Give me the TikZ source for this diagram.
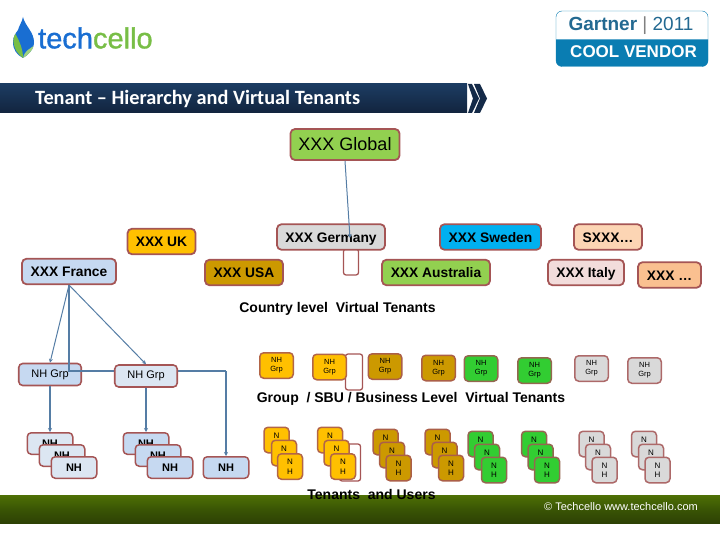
\documentclass[tikz,border=0pt]{standalone}
\usepackage{fontspec}
\setmainfont{Liberation Sans}
\newfontfamily\titlefont{Carlito}
\newfontfamily\logofont[FakeBold=1.2]{Liberation Sans}
\usetikzlibrary{positioning,arrows.meta}
\definecolor{edgered}{RGB}{165,85,85}
\definecolor{linkblue}{RGB}{85,125,165}
\definecolor{navytop}{RGB}{28,60,98}
\definecolor{navybot}{RGB}{18,36,62}
\definecolor{navy}{RGB}{20,42,72}
\definecolor{cgreen}{RGB}{146,208,80}
\definecolor{cgold}{RGB}{255,192,0}
\definecolor{cdark}{RGB}{204,153,0}
\definecolor{cblue}{RGB}{198,217,241}
\definecolor{cpale}{RGB}{220,230,242}
\definecolor{cgrey}{RGB}{217,217,217}
\definecolor{csky}{RGB}{0,176,240}
\definecolor{cpeach}{RGB}{252,213,180}
\definecolor{crose}{RGB}{242,220,219}
\definecolor{corange}{RGB}{250,192,144}
\definecolor{cleaf}{RGB}{50,205,50}
\definecolor{badgeblue}{RGB}{10,125,178}
\definecolor{badgetext}{RGB}{35,105,145}
\definecolor{logoblue}{RGB}{25,110,210}
\definecolor{logogreen}{RGB}{120,190,70}
\definecolor{foottop}{RGB}{78,112,5}
\definecolor{footmid}{RGB}{58,85,5}
\definecolor{footbot}{RGB}{45,65,5}
\tikzset{
  tenant/.style={draw=edgered, line width=1.8pt, rounded corners=4.5pt, inner sep=0pt, minimum height=25.5pt, text height=10pt, text depth=0pt, font=\bfseries\fontsize{13.8}{15}\selectfont},
  grpbox/.style={draw=edgered!85!#1, fill=#1, line width=1.5pt, rounded corners=4pt, inner sep=0pt, minimum width=33.5pt, minimum height=25.5pt, align=center, font=\fontsize{7.5}{9}\selectfont},
  nhgrp/.style={draw=edgered, fill=#1, line width=1.6pt, rounded corners=4pt, inner sep=0pt, minimum width=62.5pt, minimum height=22pt, font=\fontsize{11}{13}\selectfont},
  nhbox/.style={draw=edgered, fill=#1, line width=1.5pt, rounded corners=4pt, inner sep=0pt, minimum width=45.5pt, minimum height=21.5pt, font=\bfseries\fontsize{11}{13}\selectfont},
  leaf/.style={draw=edgered!85!#1, fill=#1, line width=1.5pt, rounded corners=4pt, inner sep=0pt, minimum width=25pt, minimum height=25.5pt, align=center, font=\fontsize{8}{9.5}\selectfont},
  blankbox/.style={draw=edgered, fill=white, line width=1.3pt, rounded corners=2.5pt, inner sep=0pt},
  caption/.style={font=\bfseries\fontsize{14}{16}\selectfont},
  link/.style={draw=linkblue, line width=1.5pt},
  thinlink/.style={draw=linkblue, line width=1pt},
  tip/.style={-{Stealth[length=4pt,width=4pt]}},
}
\begin{document}
\begin{tikzpicture}[x=1pt,y=-1pt]
\useasboundingbox (0,0) rectangle (720,540);

% logo
\fill[logoblue] (23,17) .. controls (25,26) and (34,32) .. (34,42) .. controls (34,50) and (28,55) .. (23,58) .. controls (17,55) and (13,50) .. (13,42) .. controls (13,36) and (16,33) .. (18,30) .. controls (19,26) and (22,22) .. (23,17);
\fill[logogreen] (15.5,34) .. controls (12,38) and (12,50) .. (23,58) .. controls (23,50) and (20,42) .. (15.5,34);
\fill[logogreen!70!white] (23,58) .. controls (28,55) and (33,50) .. (33.5,46) .. controls (30,49) and (25,50) .. (23,58);
\node[inner sep=0pt, anchor=west] (logo) at (38,38) {\logofont\fontsize{29}{31}\selectfont\textcolor{logoblue}{tech}\textcolor{logogreen}{cello}};

% badge
\fill[badgeblue] (556,39.5) -- (708,39.5) -- (708,60.5) arc[start angle=0,end angle=90,radius=6] -- (562,66.5) arc[start angle=90,end angle=180,radius=6] -- cycle;
\draw[badgeblue, rounded corners=6pt] (556,11) rectangle (708,66.5);
\node[inner sep=0pt, text=badgetext] (gartner) at (631,26) {\fontsize{19}{21}\selectfont\textbf{Gartner} {\color{gray}|} 2011};
\node[inner sep=0pt, text=white] (cool) at (633.5,52) {\bfseries\fontsize{17}{18}\selectfont COOL VENDOR};

% title bar
\shade[top color=navytop, bottom color=navybot] (0,84) rectangle (467,113);
\fill[navy] (468,84) -- (472,84) -- (479,98.5) -- (472,113) -- (468,113) -- (473,98.5) -- cycle;
\fill[navy] (474,84) -- (480,84) -- (487,98.5) -- (480,113) -- (474,113) -- (480,98.5) -- cycle;
\node[anchor=west, inner sep=0pt, text=white] (title) at (35,98.5) {\titlefont\bfseries\fontsize{20.3}{22}\selectfont Tenant – Hierarchy and Virtual Tenants};

% country level
\node[tenant, fill=cgreen, minimum width=109pt, minimum height=31pt, text height=13pt, font=\fontsize{18}{20}\selectfont] (global) at (345,144.5) {XXX Global};
\node[blankbox, minimum width=15pt, minimum height=26pt] (blank) at (351,262) {};
\node[tenant, fill=cgold, minimum width=68pt] (uk) at (161.5,241.5) {XXX UK};
\node[tenant, fill=cblue, minimum width=94pt] (france) at (69,271.5) {XXX France};
\node[tenant, fill=cdark, minimum width=78pt] (usa) at (244,272.5) {XXX USA};
\node[tenant, fill=cgrey, minimum width=108pt] (germany) at (331,237) {XXX Germany};
\node[tenant, fill=csky, minimum width=101pt] (sweden) at (490.5,237) {XXX Sweden};
\node[tenant, fill=cgreen, minimum width=108pt] (australia) at (436,272.5) {XXX Australia};
\node[tenant, fill=cpeach, minimum width=68pt] (sxxx) at (608,237) {SXXX\dots};
\node[tenant, fill=crose, minimum width=76pt] (italy) at (586,272.5) {XXX Italy};
\node[tenant, fill=corange, minimum width=63pt] (other) at (669.5,275) {XXX \dots};
\coordinate (globalfoot) at (345,161);
\coordinate (germanyin) at (350,238);
\draw[thinlink, tip] (globalfoot) -- (germanyin);

\node[caption] (countrycap) at (337.5,309) {Country level\ \ Virtual Tenants};

% group level
\coordinate (francefoot) at (69,285);
\coordinate (busleft) at (69,371);
\coordinate (busright) at (226,371);
\node[nhgrp=cblue] (grp1) at (50,374.5) {NH Grp};
\draw[thinlink, line width=1.3pt] (francefoot) -- (busleft) -- (busright);
\node[nhgrp=cpale] (grp2) at (146,376) {NH Grp};
\node[grpbox=cgold] (grpa) at (276.5,365.5) {NH\\Grp};
\node[blankbox, minimum width=17pt, minimum height=36pt] (blanktwo) at (354,372) {};
\node[grpbox=cgold] (grpb) at (329.5,367) {NH\\Grp};
\node[grpbox=cdark] (grpc) at (385,366.5) {NH\\Grp};
\node[grpbox=cdark] (grpd) at (438.5,368) {NH\\Grp};
\node[grpbox=cleaf] (grpe) at (481,368.5) {NH\\Grp};
\node[grpbox=cleaf] (grpf) at (534.5,370.5) {NH\\Grp};
\node[grpbox=cgrey] (grpg) at (591.5,368.5) {NH\\Grp};
\node[grpbox=cgrey] (grph) at (644.5,370.5) {NH\\Grp};

\node[caption] (groupcap) at (411,399) {Group\ \ / SBU / Business Level\ \ Virtual Tenants};

% blank behind second pile
\node[blankbox, minimum width=21pt, minimum height=37pt] (blankthree) at (350,462.5) {};

% NH piles
\foreach \n/\px/\py/\tone in {a/50/443.5/cpale, b/62/455.5/cpale, c/74/467.5/cpale, d/146/443.5/cblue, e/158/455.5/cblue, f/170/467.5/cblue}
  \node[nhbox=\tone] (nh\n) at (\px,\py) {NH};
\node[nhbox=cblue] (nhg) at (226,467.5) {NH};

% tenant piles
\foreach \n/\px/\py/\tone in {
  a/276.5/440/cgold, b/284/453/cgold, c/290/466.5/cgold,
  d/330/440/cgold, e/336.5/453/cgold, f/343/466.5/cgold,
  g/385.5/442/cdark, h/392/455/cdark, i/398.5/468/cdark,
  j/437.5/442/cdark, k/444.5/455/cdark, l/451/468/cdark,
  m/480.5/444/cleaf, n/487/457/cleaf, o/494/470/cleaf,
  p/534/444/cleaf, q/540.5/457/cleaf, r/547/470/cleaf,
  s/591.5/444/cgrey, t/598/457/cgrey, u/604.5/470/cgrey,
  v/644/444/cgrey, w/651/457/cgrey, x/657.5/470/cgrey}
  \node[leaf=\tone] (t\n) at (\px,\py) {N\\H};

% footer
\shade[top color=foottop, bottom color=footbot, middle color=footmid] (0,495) rectangle (720,523);
\node[anchor=west, inner sep=0pt, text=white] (copy) at (544,507) {\fontsize{11}{13}\selectfont © Techcello www.techcello.com};
\node[caption] (tenantcap) at (371.5,494) {Tenants\ \ and Users};

% links
\draw[thinlink, tip] (francefoot) -- (grp1.north);
\draw[thinlink, tip] (francefoot) -- (grp2.north);
\draw[link, tip] (busright) -- (nhg.north);
\draw[link, tip] (grp1.south) -- (nha.north);
\draw[link, tip] (grp2.south) -- (nhd.north);
\end{tikzpicture}
\end{document}
